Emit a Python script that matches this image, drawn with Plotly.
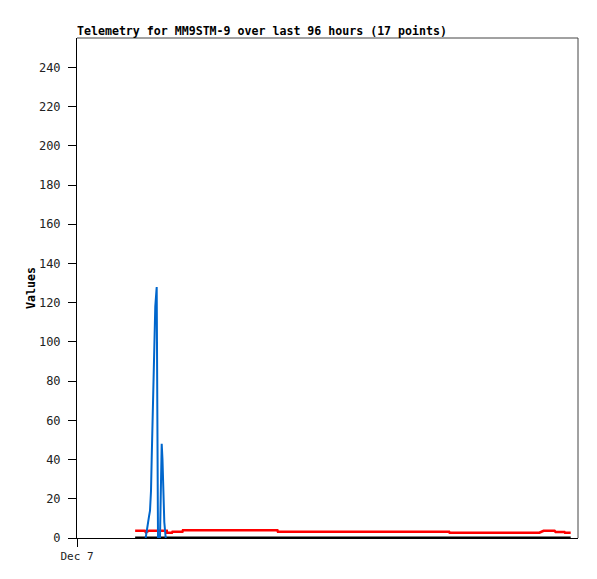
import plotly.graph_objects as go

# hours since Dec 7 00:00 (window of 96 hours)
blue_hours = [13.16, 13.35, 13.8, 13.99, 14.18, 14.31, 14.62, 14.81, 15.0, 15.27,
              15.46, 15.52, 15.9, 16.23, 16.38, 16.73, 17.0]
blue_values = [0, 4, 11, 14, 24, 40, 75, 96, 118, 128,
               64, 0, 0, 48, 40, 8, 0]

red_hours = [11.14, 13.0, 13.2, 13.8, 17.2, 17.25, 18.2, 18.3, 20.2, 20.3,
             38.4, 38.5, 71.3, 71.4, 88.6, 89.4, 91.5, 91.7, 93.4, 93.5, 94.6]
red_values = [3.7, 3.7, 2.9, 3.7, 3.7, 2.7, 2.7, 3.2, 3.2, 3.9,
              3.9, 3.2, 3.2, 2.7, 2.7, 3.7, 3.7, 3.1, 3.1, 2.7, 2.7]

black_hours = [11.14, 94.6]
black_values = [0, 0]

y_ticks = list(range(0, 241, 20))
x_tickvals = [0]
x_ticktext = ["Dec 7"]

MONO = "DejaVu Sans Mono"

fig = go.Figure()

fig.add_trace(go.Scatter(x=black_hours, y=black_values, mode="lines",
                         line=dict(color="black", width=3), showlegend=False))
fig.add_trace(go.Scatter(x=red_hours, y=red_values, mode="lines",
                         line=dict(color="#ff0000", width=2.5), showlegend=False))
fig.add_trace(go.Scatter(x=blue_hours, y=blue_values, mode="lines",
                         line=dict(color="#0066cc", width=2), showlegend=False))

# page body adds an 8px offset, so the figure is sized to fit inside it
fig.update_layout(
    width=589,
    height=571,
    margin=dict(l=69, r=19, t=30, b=41),
    paper_bgcolor="white",
    plot_bgcolor="white",
    font=dict(family=MONO, size=11, color="#222"),
    title=dict(
        text="<b>Telemetry for MM9STM-9 over last 96 hours (17 points)</b>",
        x=69 / 589, xanchor="left",
        y=1 - 23 / 571, yanchor="middle",
        font=dict(family=MONO, size=11.6, color="black"),
    ),
)

fig.update_xaxes(
    range=[0, 96],
    tickvals=x_tickvals,
    ticktext=x_ticktext,
    ticks="outside",
    ticklen=8,
    tickcolor="black",
    showgrid=False,
    zeroline=False,
    showline=True,
    linecolor="black",
    linewidth=1,
    tickfont=dict(family=MONO, size=11, color="#222"),
)
fig.update_yaxes(
    range=[0, 255],
    tickvals=y_ticks,
    ticks="outside",
    ticklen=8,
    tickcolor="black",
    showgrid=False,
    zeroline=False,
    showline=True,
    linecolor="black",
    linewidth=1,
    ticklabelstandoff=5,
    tickfont=dict(family=MONO, size=12, color="#222"),
    title=dict(text="<b>Values</b>", standoff=0,
               font=dict(family=MONO, size=11.6, color="black")),
)

# top and right frame edges in grey
fig.add_shape(type="line", xref="paper", yref="paper", x0=0, x1=1, y0=1, y1=1,
              line=dict(color="#444", width=1))
fig.add_shape(type="line", xref="paper", yref="paper", x0=1, x1=1, y0=0, y1=1,
              line=dict(color="#444", width=1))

fig.write_html("out.html")
